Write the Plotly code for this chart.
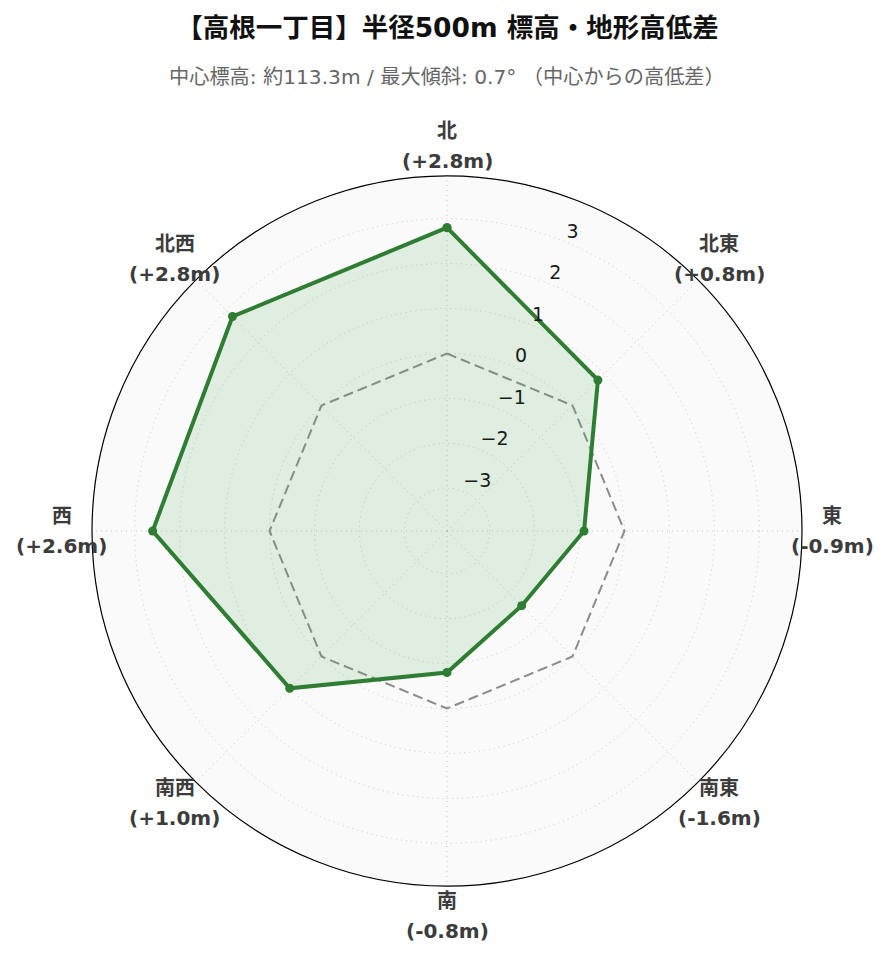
import math
import plotly.graph_objects as go

directions = ["北", "北東", "東", "南東", "南", "南西", "西", "北西"]
diffs = [2.8, 0.8, -0.9, -1.6, -0.8, 1.0, 2.6, 2.8]
radial_ticks = [-3, -2, -1, 0, 1, 2, 3]
radial_tick_text = ["−3", "−2", "−1", "0", "1", "2", "3"]

title_text = "【高根一丁目】半径500m 標高・地形高低差"
subtitle_text = "中心標高: 約113.3m / 最大傾斜: 0.7° （中心からの高低差）"

FONT = "DejaVu Sans, Noto Sans CJK JP, sans-serif"

n = len(directions)
step = 360 / n
thetas = [i * step for i in range(n)]
theta_closed = thetas + [thetas[0]]
r_closed = diffs + [diffs[0]]
zero_closed = [0] * len(theta_closed)
TICK_LABEL_THETA = step / 2

fig = go.Figure()
fig.add_trace(go.Scatterpolar(
    r=zero_closed, theta=theta_closed, mode="lines",
    line=dict(color="rgba(120,120,120,0.85)", width=2, dash="10px,5px"),
    hoverinfo="skip", showlegend=False,
))
fig.add_trace(go.Scatterpolar(
    r=r_closed, theta=theta_closed, mode="lines+markers",
    fill="toself", fillcolor="rgba(76,175,80,0.15)",
    line=dict(color="#2e7d32", width=4),
    marker=dict(color="#2e7d32", size=9),
    showlegend=False,
))
# radial tick labels drawn through the polar scale
fig.add_trace(go.Scatterpolar(
    r=radial_ticks, theta=[TICK_LABEL_THETA] * len(radial_ticks),
    mode="text", text=radial_tick_text, textposition="top right",
    textfont=dict(family=FONT, size=19, color="#1a1a1a"),
    hoverinfo="skip", showlegend=False,
))

# plot area geometry (pixels)
ML, MR, MT, MB = 84, 95, 168, 84
W, H = 889, 962
PW = W - ML - MR
PH = H - MT - MB
label_r = (PW / 2 + 30) / PW  # label ring radius in paper units
line_gap = 15 / PH

annotations = [dict(
    text=subtitle_text, showarrow=False,
    xref="paper", yref="paper", x=0.5, xanchor="center",
    y=(PH + MT - 69) / PH, yanchor="middle",
    font=dict(family=FONT, size=20.2, color="#666"),
)]
for t, d, v in zip(thetas, directions, diffs):
    ang = math.radians(t)
    cx = 0.5 + label_r * math.sin(ang)
    cy = 0.5 + label_r * math.cos(ang)
    annotations.append(dict(
        text=f"<b>{d}</b>", showarrow=False, xref="paper", yref="paper",
        x=cx, y=cy + line_gap, xanchor="center", yanchor="middle",
        font=dict(family=FONT, size=20, color="#3c3c3c"),
    ))
    annotations.append(dict(
        text=f"<b>({v:+.1f}m)</b>", showarrow=False, xref="paper", yref="paper",
        x=cx, y=cy - line_gap, xanchor="center", yanchor="middle",
        font=dict(family=FONT, size=20, color="#3c3c3c"),
    ))

fig.update_layout(
    width=W, height=H,
    paper_bgcolor="white",
    font=dict(family=FONT),
    margin=dict(l=ML, r=MR, t=MT, b=MB),
    title=dict(
        text=f"<b>{title_text}</b>",
        x=0.5 - 5 / W, xanchor="center", xref="container",
        y=1 - 20 / H, yanchor="middle", yref="container",
        font=dict(family=FONT, size=26.5, color="#111"),
    ),
    annotations=annotations,
    polar=dict(
        bgcolor="#fafafa",
        radialaxis=dict(
            range=[-3.95, 3.95], tickvals=radial_ticks,
            showline=False, showticklabels=False,
            gridcolor="#c8c8c8", griddash="1px,4px", gridwidth=1, ticks="",
        ),
        angularaxis=dict(
            rotation=90, direction="clockwise",
            tickmode="array", tickvals=thetas,
            gridcolor="#c8c8c8", griddash="1px,4px", gridwidth=1,
            linecolor="black", linewidth=1.2,
            showticklabels=False, ticks="",
        ),
    ),
)

fig.write_html("out.html")
